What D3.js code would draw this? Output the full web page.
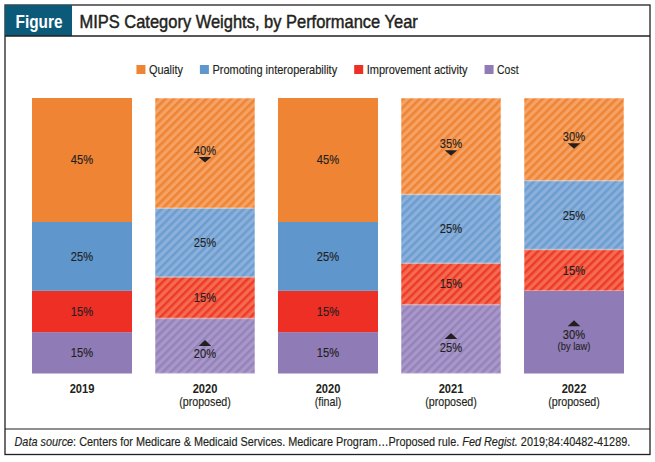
<!DOCTYPE html>
<html>
<head>
<meta charset="utf-8">
<script src="https://cdn.jsdelivr.net/npm/d3@7"></script>
<style>
  html, body { margin: 0; padding: 0; background: #fff; }
  svg { display: block; }
  text { font-family: "Liberation Sans", Arial, "Roboto", sans-serif; }
</style>
</head>
<body>
<svg id="chart" width="655" height="462"></svg>
<script>
// ---- data ----
const categories = ["2019", "2020", "2020", "2021", "2022"];
const subLabels = ["", "(proposed)", "(final)", "(proposed)", "(proposed)"];
const seriesNames = ["Quality", "Promoting interoperability", "Improvement activity", "Cost"];
const quality = [45, 40, 45, 35, 30];
const interoperability = [25, 25, 25, 25, 25];
const improvement = [15, 15, 15, 15, 15];
const cost = [15, 20, 15, 25, 30];
// proposed (hatched) flags per bar: [quality, interop, improvement, cost]
const proposedFlags = [
  [0, 0, 0, 0],
  [1, 1, 1, 1],
  [0, 0, 0, 0],
  [1, 1, 1, 1],
  [1, 1, 1, 0]
];
const qualityArrow = ["", "down", "", "down", "down"];
const costArrow = ["", "up", "", "up", "up"];
const costNote = ["", "", "", "", "(by law)"];

const solidColors = { "Quality": "#ee8434", "Promoting interoperability": "#5f96cc", "Improvement activity": "#ee2f25", "Cost": "#8f7bb5" };
const lightColors = { "Quality": "#f5a264", "Promoting interoperability": "#8cb0da", "Improvement activity": "#f46c50", "Cost": "#a898c9" };
const stripeColors = { "Quality": "#ee8434", "Promoting interoperability": "#6a9dd1", "Improvement activity": "#ee3a2a", "Cost": "#9682bb" };

const svg = d3.select("#chart");
const ink = "#231f20";
const SX = 0.87; // horizontal condensation to mimic a condensed face

// text helper: draws condensed text; if fitWidth given, scales to that width
function ctext(parent, x, y, str, opts = {}) {
  const g = parent.append("g");
  const t = g.append("text")
    .attr("font-size", opts.size || 12.5)
    .attr("fill", opts.fill || ink)
    .attr("font-weight", opts.weight || "normal")
    .attr("font-style", opts.style || "normal")
    .attr("text-anchor", opts.anchor || "start");
  if (opts.stroke) t.attr("stroke", opts.fill || ink).attr("stroke-width", opts.stroke);
  if (opts.dy) t.attr("dy", opts.dy);
  if (typeof str === "string") t.text(str); else str(t);
  let sx = SX;
  if (opts.fit) sx = opts.fit / t.node().getComputedTextLength();
  g.attr("transform", `translate(${x},${y}) scale(${sx},1)`);
  return { g, t, width: t.node().getComputedTextLength() * sx };
}

// patterns
const defs = svg.append("defs");
seriesNames.forEach((s, i) => {
  const p = defs.append("pattern")
    .attr("id", "hatch" + i)
    .attr("patternUnits", "userSpaceOnUse")
    .attr("width", 5.8).attr("height", 5.8)
    .attr("patternTransform", "rotate(45)");
  p.append("rect").attr("width", 5.8).attr("height", 5.8).attr("fill", lightColors[s]);
  p.append("rect").attr("width", 2.5).attr("height", 5.8).attr("fill", stripeColors[s]);
});

// frame
svg.append("rect").attr("x", 5).attr("y", 5).attr("width", 645).attr("height", 449.5)
  .attr("fill", "none").attr("stroke", ink).attr("stroke-width", 1.3);
svg.append("rect").attr("x", 5).attr("y", 5).attr("width", 67).attr("height", 31).attr("fill", "#0b5a7a");
svg.append("line").attr("x1", 5).attr("x2", 650).attr("y1", 36).attr("y2", 36).attr("stroke", ink).attr("stroke-width", 1.3);
svg.append("line").attr("x1", 5).attr("x2", 650).attr("y1", 429).attr("y2", 429).attr("stroke", ink).attr("stroke-width", 1.1);

ctext(svg, 15.5, 27.5, "Figure", { size: 17.5, weight: "bold", fill: "#fff", fit: 47 });
ctext(svg, 79.5, 27.5, "MIPS Category Weights, by Performance Year", { size: 17.5, fit: 338.5, stroke: 0.45 });

// legend
const legendText = [34, 125, 101, 21.5];
const legend = svg.append("g");
let lx = 0;
seriesNames.forEach((s, i) => {
  const g = legend.append("g").attr("transform", `translate(${lx},0)`);
  g.append("rect").attr("x", 0).attr("y", 65).attr("width", 9).attr("height", 9).attr("fill", solidColors[s]);
  const r = ctext(g, 12.5, 73.5, s, { size: 12.5, fit: legendText[i], stroke: 0.15 });
  lx += 12.5 + r.width + 17;
});
const lw = lx - 17;
legend.attr("transform", `translate(${327.5 - lw / 2},0)`);

// scales
const x = d3.scaleBand().domain(d3.range(categories.length)).range([32, 624]).paddingInner(23 / 123).paddingOuter(0);
const y = d3.scaleLinear().domain([0, 100]).range([373.5, 98]);

const rows = categories.map((c, i) => ({
  i,
  "Quality": quality[i],
  "Promoting interoperability": interoperability[i],
  "Improvement activity": improvement[i],
  "Cost": cost[i]
}));
const stackKeys = ["Cost", "Improvement activity", "Promoting interoperability", "Quality"];
const stacked = d3.stack().keys(stackKeys)(rows);

const bars = svg.append("g");
const labels = svg.append("g");
stacked.forEach(layer => {
  const s = layer.key;
  const si = seriesNames.indexOf(s);
  layer.forEach((d, i) => {
    const hatched = proposedFlags[i][si] === 1;
    bars.append("rect")
      .attr("x", x(i)).attr("width", x.bandwidth())
      .attr("y", y(d[1])).attr("height", y(d[0]) - y(d[1]))
      .attr("fill", hatched ? `url(#hatch${si})` : solidColors[s]);
    if (hatched) {
      bars.append("rect")
        .attr("x", x(i) + 0.4).attr("width", x.bandwidth() - 0.8)
        .attr("y", y(d[1]) + 0.4).attr("height", y(d[0]) - y(d[1]) - 0.8)
        .attr("fill", "none").attr("stroke", "#fff").attr("stroke-opacity", 0.35).attr("stroke-width", 0.8);
    }
    const cx = x(i) + x.bandwidth() / 2;
    const mid = (y(d[0]) + y(d[1])) / 2;
    const val = d[1] - d[0];
    let textY = mid;
    if (s === "Quality" && qualityArrow[i] === "down") {
      textY = mid - 3;
      labels.append("path")
        .attr("d", `M${cx - 6.3},${mid + 4}L${cx + 6.3},${mid + 4}L${cx},${mid + 9.5}Z`).attr("fill", ink);
    }
    if (s === "Cost" && costArrow[i] === "up") {
      const shift = costNote[i] ? -6 : 0;
      labels.append("path")
        .attr("d", `M${cx - 6.3},${mid + shift}L${cx + 6.3},${mid + shift}L${cx},${mid - 6 + shift}Z`).attr("fill", ink);
      textY = mid + 8 + shift;
      if (costNote[i]) {
        ctext(labels, cx, mid + 14, costNote[i], { size: 10.8, anchor: "middle", dy: "0.35em", stroke: 0.1 });
      }
    }
    ctext(labels, cx, textY, val + "%", { size: 12.8, anchor: "middle", dy: "0.35em", stroke: 0.15 });
  });
});

// category labels
const cats = svg.append("g");
categories.forEach((c, i) => {
  const cx = x(i) + x.bandwidth() / 2;
  ctext(cats, cx, 388.5, c, { size: 12.8, weight: "bold", anchor: "middle", dy: "0.35em" });
  if (subLabels[i]) {
    ctext(cats, cx, 402, subLabels[i], { size: 12.3, anchor: "middle", dy: "0.35em", stroke: 0.15 });
  }
});

// footer
ctext(svg, 14.5, 446, t => {
  t.append("tspan").attr("font-style", "italic").text("Data source");
  t.append("tspan").text(": Centers for Medicare & Medicaid Services. Medicare Program\u2026Proposed rule. ");
  t.append("tspan").attr("font-style", "italic").text("Fed Regist.");
  t.append("tspan").text(" 2019;84:40482-41289.");
}, { size: 12, fit: 617, stroke: 0.15 });
</script>
</body>
</html>
